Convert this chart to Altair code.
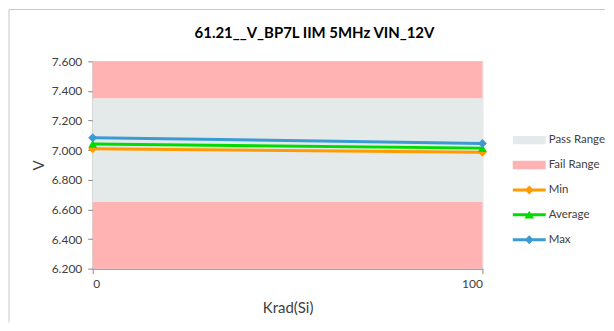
import altair as alt
import pandas as pd

# ---- data ----
krad = [0, 100]
min_v = [7.009, 6.986]
avg_v = [7.042, 7.014]
max_v = [7.084, 7.046]

range_series = ["Fail Range", "Pass Range", "Fail Range"]
range_low = [7.35, 6.65, 6.2]
range_high = [7.6, 7.35, 6.65]

series_names = ["Pass Range", "Fail Range", "Min", "Average", "Max"]
series_colors = ["#E4EAEA", "#FFB3B3", "#FF9A00", "#00DC00", "#3A9AD2"]
COLOR = dict(zip(series_names, series_colors))

y_ticks = [6.2, 6.4, 6.6, 6.8, 7.0, 7.2, 7.4, 7.6]
x_ticks = [0, 100]
title_text = "61.21__V_BP7L IIM 5MHz VIN_12V"

# ---- legend symbol paths (unit box) ----
rect_path = "M-2.75,-0.7H2.75V0.7H-2.75Z"
line_diamond = "M-2.75,-0.25H2.75V0.25H-2.75Z M0,-0.75L0.75,0L0,0.75L-0.75,0Z"
line_triangle = "M-2.75,-0.25H2.75V0.25H-2.75Z M0,-0.7L0.8,0.6H-0.8Z"
legend_shapes = [rect_path, rect_path, line_diamond, line_triangle, line_diamond]
marker_shapes = {"Min": "diamond", "Average": "triangle-up", "Max": "diamond"}

# ---- tables ----
ranges_df = pd.DataFrame({
    "series": range_series,
    "low": range_low,
    "high": range_high,
    "x0": [min(krad)] * len(range_series),
    "x1": [max(krad)] * len(range_series),
})
lines_df = pd.concat([
    pd.DataFrame({"krad": krad, "value": min_v, "series": "Min"}),
    pd.DataFrame({"krad": krad, "value": avg_v, "series": "Average"}),
    pd.DataFrame({"krad": krad, "value": max_v, "series": "Max"}),
], ignore_index=True)
legend_df = pd.DataFrame({"series": series_names,
                          "xv": [None] * len(series_names),
                          "yv": [None] * len(series_names)})

FONT = "Lato"
AX_COL = "#868686"
TXT_COL = "#404040"

xscale = alt.Scale(domain=[0, 100], nice=False, zero=False)
yscale = alt.Scale(domain=[6.2, 7.6], nice=False, zero=False)
cscale = alt.Scale(domain=series_names, range=series_colors)

xaxis = alt.Axis(title="Krad(Si)", values=x_ticks, format="d", grid=False,
                 domainColor=AX_COL, tickColor=AX_COL, tickSize=5,
                 labelFont=FONT, labelFontSize=12, labelColor=TXT_COL, labelPadding=5,
                 titleFont=FONT, titleFontSize=15, titleFontWeight="normal",
                 titleColor=TXT_COL, titlePadding=11)
yaxis = alt.Axis(title="V", values=y_ticks, format=".3f", grid=False,
                 domainColor=AX_COL, tickColor=AX_COL, tickSize=5,
                 labelFont=FONT, labelFontSize=12, labelColor=TXT_COL, labelPadding=6,
                 titleFont=FONT, titleFontSize=15, titleFontWeight="normal",
                 titleColor=TXT_COL, titlePadding=5)

layers = []
for name in ["Pass Range", "Fail Range"]:
    layers.append(
        alt.Chart(ranges_df).transform_filter(
            alt.FieldEqualPredicate(field="series", equal=name)
        ).mark_rect(color=COLOR[name]).encode(
            x=alt.X("x0:Q", scale=xscale, axis=xaxis),
            x2="x1:Q",
            y=alt.Y("low:Q", scale=yscale, axis=yaxis),
            y2="high:Q",
        )
    )

for name in ["Min", "Average", "Max"]:
    base = alt.Chart(lines_df).transform_filter(
        alt.FieldEqualPredicate(field="series", equal=name)
    )
    layers.append(
        base.mark_line(color=COLOR[name], strokeWidth=3).encode(
            x=alt.X("krad:Q", scale=xscale, axis=xaxis),
            y=alt.Y("value:Q", scale=yscale, axis=yaxis),
        )
    )
    layers.append(
        base.mark_point(shape=marker_shapes[name], color=COLOR[name], filled=True,
                        opacity=1, size=80).encode(
            x=alt.X("krad:Q", scale=xscale, axis=xaxis),
            y=alt.Y("value:Q", scale=yscale, axis=yaxis),
        )
    )

leg = alt.Legend(title=None, orient="none", legendX=432, legendY=73,
                 symbolSize=144, labelOffset=13.5, rowPadding=13,
                 labelFont=FONT, labelFontSize=11.5, labelColor=TXT_COL,
                 symbolStrokeWidth=0, symbolOpacity=1)

legend_layer = alt.Chart(legend_df).mark_point(filled=True, opacity=1).encode(
    x=alt.X("xv:Q", scale=xscale, axis=xaxis),
    y=alt.Y("yv:Q", scale=yscale, axis=yaxis),
    color=alt.Color("series:N", scale=cscale, legend=leg),
    shape=alt.Shape("series:N", scale=alt.Scale(domain=series_names, range=legend_shapes),
                    legend=leg),
)
layers.append(legend_layer)

frame_df = pd.DataFrame({"f": [0]})
layers.append(alt.Chart(frame_df).mark_rule(color="#C8C8C8", strokeWidth=1).encode(
    x=alt.value(-84), x2=alt.value(514), y=alt.value(-52)))
layers.append(alt.Chart(frame_df).mark_rule(color="#C8C8C8", strokeWidth=1).encode(
    x=alt.value(-84), y=alt.value(-52), y2=alt.value(262)))

chart = alt.layer(*layers).properties(
    width=391, height=208,
    title=alt.TitleParams(title_text, font=FONT, fontSize=15, fontWeight="bold",
                          color="#000000", anchor="middle", frame="group", dx=27, offset=-32),
    padding=0,
).configure_view(stroke=None).configure(background="white")

chart.save("out.html", embed_options={"renderer": "svg", "actions": False})
